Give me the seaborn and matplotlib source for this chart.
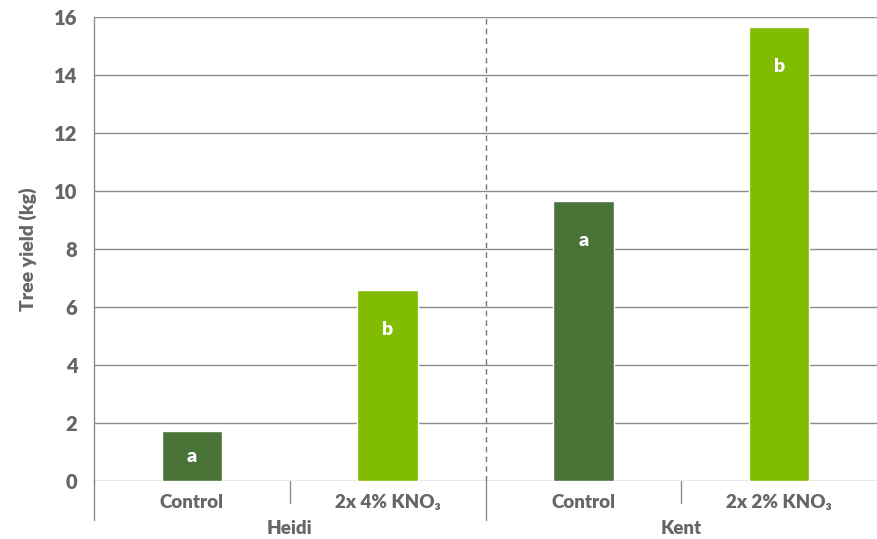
import pandas as pd
import seaborn as sns
import matplotlib.pyplot as plt

# data
groups = ['Heidi', 'Heidi', 'Kent', 'Kent']
treatments = ['Control', '2x 4% KNO₃', 'Control', '2x 2% KNO₃']
yields = [1.72, 6.59, 9.66, 15.66]
letters = ['a', 'b', 'a', 'b']
colors = ['#4a7337', '#80bc00', '#4a7337', '#80bc00']

df = pd.DataFrame({'key': [f'{g}|{t}' for g, t in zip(groups, treatments)],
                   'yield': yields})

sns.set_style('white')
plt.rcParams['font.family'] = ['Lato', 'DejaVu Sans']
plt.rcParams['font.weight'] = 'heavy'
grey = '#666666'
W = 'heavy'

fig = plt.figure(figsize=(8.77, 5.39), dpi=100)
ax = fig.add_axes([94 / 877, 58 / 539, 1 - 94 / 877, 464 / 539])

sns.barplot(data=df, x='key', y='yield', hue='key', palette=colors,
            legend=False, width=0.31, saturation=1, ax=ax, zorder=3)

ax.set_ylim(0, 16)
ax.set_xlim(-0.5, 3.5)
ax.set_yticks(range(0, 17, 2))
ax.grid(axis='y', color='#8a8a8a', linewidth=1, zorder=0)
ax.tick_params(axis='y', length=6, color='#8a8a8a', labelsize=14.5, labelcolor=grey, pad=6)
for lab in ax.get_yticklabels():
    lab.set_fontweight(W)
ax.set_xticks([])
ax.set_xlabel('')
ax.set_ylabel('Tree yield (kg)', fontsize=14, fontweight=W, color=grey, labelpad=12)

for s in ['top', 'right', 'bottom']:
    ax.spines[s].set_visible(False)
ax.spines['left'].set_color('#8a8a8a')
ax.spines['left'].set_linewidth(1)

# letters on bars
for i, (v, l) in enumerate(zip(yields, letters)):
    y = max(v / 2, v - 1.35)
    ax.text(i, y, l, ha='center', va='center', color='white',
            fontsize=14, fontweight=W, zorder=4)

# dashed divider between cultivars
ax.axvline(1.5, color='#777777', linestyle=(0, (4, 3)), linewidth=1, zorder=2)

# category axis below
trans = ax.get_xaxis_transform()
sep_px = 22 / 464
grp_px = 39 / 464
ax.plot([-0.5, -0.5], [0, -grp_px], transform=trans, color='#8a8a8a', lw=1, clip_on=False)
ax.plot([1.5, 1.5], [0, -grp_px], transform=trans, color='#8a8a8a', lw=1, clip_on=False)
for xs in [0.5, 2.5]:
    ax.plot([xs, xs], [0, -sep_px], transform=trans, color='#8a8a8a', lw=1, clip_on=False)
for i, t in enumerate(treatments):
    ax.text(i, -22 / 464, t, transform=trans, ha='center', va='center',
            fontsize=13.5, fontweight=W, color=grey)
for gx, g in [(0.5, 'Heidi'), (2.5, 'Kent')]:
    ax.text(gx, -47 / 464, g, transform=trans, ha='center', va='center',
            fontsize=13.5, fontweight=W, color=grey)

fig.savefig('out.png', dpi=100)
